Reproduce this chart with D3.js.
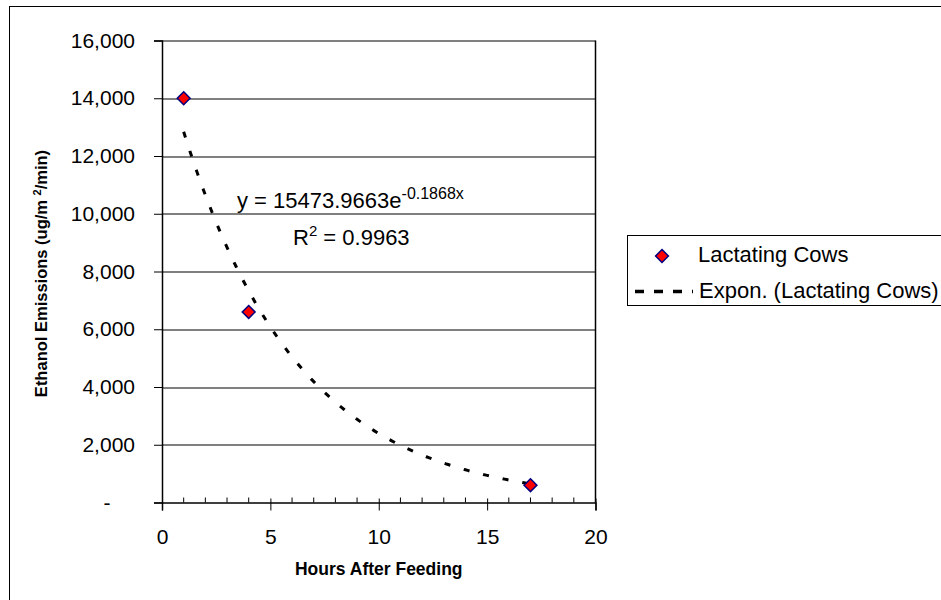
<!DOCTYPE html>
<html>
<head>
<meta charset="utf-8">
<script src="https://cdn.jsdelivr.net/npm/d3@7"></script>
<style>
  body { margin: 0; background: #fff; }
  text { font-family: Arial, "Liberation Sans", sans-serif; fill: #000; }
</style>
</head>
<body>
<div id="chart"></div>
<script>
// data
const hours = [1, 4, 17];
const emissions = [14000, 6600, 600];
const seriesName = 'Lactating Cows';
const xTicks = [0, 5, 10, 15, 20];
const yTicks = [0, 2000, 4000, 6000, 8000, 10000, 12000, 14000, 16000];
// exponential trendline as printed on the chart
const trendA = 15473.9663, trendB = -0.1868;

const W = 941, H = 600;
const margin = { top: 40.5, right: 345.5, bottom: 97.5, left: 162 },
      width = W - margin.left - margin.right,
      height = H - margin.top - margin.bottom;

const FONT = 'Arial, "Liberation Sans", sans-serif';

const svg = d3.select('#chart').append('svg')
    .attr('width', W)
    .attr('height', H);

// outer chart frame (runs off the right and bottom edges)
svg.append('rect')
    .attr('x', 9.5).attr('y', 6.5)
    .attr('width', W).attr('height', H)
    .attr('fill', 'none').attr('stroke', '#000').attr('stroke-width', 1);

const g = svg.append('g')
    .attr('transform', 'translate(' + margin.left + ',' + margin.top + ')');

const x = d3.scaleLinear().domain([0, 20]).range([0, width]),
      y = d3.scaleLinear().domain([0, 16000]).range([height, 0]);

// gridlines
g.append('g').selectAll('line')
    .data(yTicks.slice(1))
  .enter().append('line')
    .attr('x1', 0).attr('x2', width)
    .attr('y1', d => Math.round(y(d)) + 0.5).attr('y2', d => Math.round(y(d)) + 0.5)
    .attr('stroke', '#000').attr('stroke-width', 1);

// right edge of plot area
g.append('line')
    .attr('x1', width).attr('x2', width)
    .attr('y1', 0).attr('y2', height)
    .attr('stroke', '#000').attr('stroke-width', 1.5);

// y axis
const fmt = d => d === 0 ? '-' : d3.format(',')(d);
const yAxis = g.append('g')
    .call(d3.axisLeft(y).tickValues(yTicks).tickSize(8).tickPadding(19).tickFormat(fmt));
yAxis.select('.domain').attr('stroke', '#000').attr('stroke-width', 1.5);
yAxis.selectAll('.tick line').attr('stroke', '#000');
yAxis.selectAll('.tick text')
    .style('font-size', '21px')
    .style('font-family', FONT);
yAxis.selectAll('.tick').filter(d => d === 0).select('text')
    .attr('x', -55).attr('text-anchor', 'middle');

// x axis: minor ticks inside, major ticks crossing
const xAxisG = g.append('g').attr('transform', 'translate(0,' + height + ')');
xAxisG.selectAll('line.minor')
    .data(d3.range(1, 20).filter(d => d % 5 !== 0))
  .enter().append('line')
    .attr('class', 'minor')
    .attr('x1', d => x(d)).attr('x2', d => x(d))
    .attr('y1', -5).attr('y2', 0)
    .attr('stroke', '#000');
xAxisG.call(d3.axisBottom(x).tickValues(xTicks).tickSize(8).tickPadding(19));
xAxisG.select('.domain').attr('stroke', '#000').attr('stroke-width', 1.5);
xAxisG.selectAll('.tick line').attr('y1', -4).attr('stroke', '#000');
xAxisG.selectAll('.tick text')
    .style('font-size', '21px')
    .style('font-family', FONT);

// axis titles
svg.append('text')
    .attr('x', margin.left + width / 2)
    .attr('y', 575)
    .attr('text-anchor', 'middle')
    .style('font-size', '17.5px').style('font-weight', 'bold')
    .text('Hours After Feeding');

const yTitle = svg.append('text')
    .attr('transform', 'translate(47,' + (margin.top + height / 2 + 2) + ') rotate(-90)')
    .attr('text-anchor', 'middle')
    .style('font-size', '16.5px').style('font-weight', 'bold');
yTitle.append('tspan').text('Ethanol Emissions (ug/m ');
yTitle.append('tspan').attr('dy', -6).style('font-size', '11px').text('2');
yTitle.append('tspan').attr('dy', 6).text('/min)');

// trendline
const trendX = d3.range(hours[0], hours[hours.length - 1] + 0.001, 0.1);
const line = d3.line()
    .x(d => x(d))
    .y(d => y(trendA * Math.exp(trendB * d)));
g.append('path')
    .datum(trendX)
    .attr('d', line)
    .attr('fill', 'none')
    .attr('stroke', '#000')
    .attr('stroke-width', 3)
    .attr('stroke-dasharray', '6,14');

// markers
const diamond = d3.symbol().type(d3.symbolDiamond2).size(105);
g.append('g').selectAll('path')
    .data(hours.map((h, i) => ({ h, v: emissions[i] })))
  .enter().append('path')
    .attr('transform', d => 'translate(' + x(d.h) + ',' + y(d.v) + ')')
    .attr('d', diamond)
    .attr('fill', '#ff0000')
    .attr('stroke', '#000080')
    .attr('stroke-width', 1.5);

// equation and R²
const eq = svg.append('text')
    .attr('x', 237).attr('y', 208)
    .style('font-size', '22px');
eq.append('tspan').text('y = 15473.9663e');
eq.append('tspan').attr('dy', -9).style('font-size', '16px').text('-0.1868x');

const r2 = svg.append('text')
    .attr('x', 293).attr('y', 245)
    .style('font-size', '22px');
r2.append('tspan').text('R');
r2.append('tspan').attr('dy', -9).style('font-size', '15px').text('2');
r2.append('tspan').attr('dy', 9).text(' = 0.9963');

// legend
const legend = svg.append('g');
legend.append('rect')
    .attr('x', 627.5).attr('y', 235.5)
    .attr('width', 330).attr('height', 70)
    .attr('fill', '#fff').attr('stroke', '#000');
legend.append('path')
    .attr('transform', 'translate(662,256)')
    .attr('d', diamond)
    .attr('fill', '#ff0000').attr('stroke', '#000080').attr('stroke-width', 1.5);
legend.append('text')
    .attr('x', 698).attr('y', 262)
    .style('font-size', '22px')
    .text(seriesName);
legend.append('line')
    .attr('x1', 635).attr('x2', 693)
    .attr('y1', 291.5).attr('y2', 291.5)
    .attr('stroke', '#000').attr('stroke-width', 3.5)
    .attr('stroke-dasharray', '9,10');
legend.append('text')
    .attr('x', 699).attr('y', 298)
    .style('font-size', '22px')
    .text('Expon. (' + seriesName + ')');
</script>
</body>
</html>
